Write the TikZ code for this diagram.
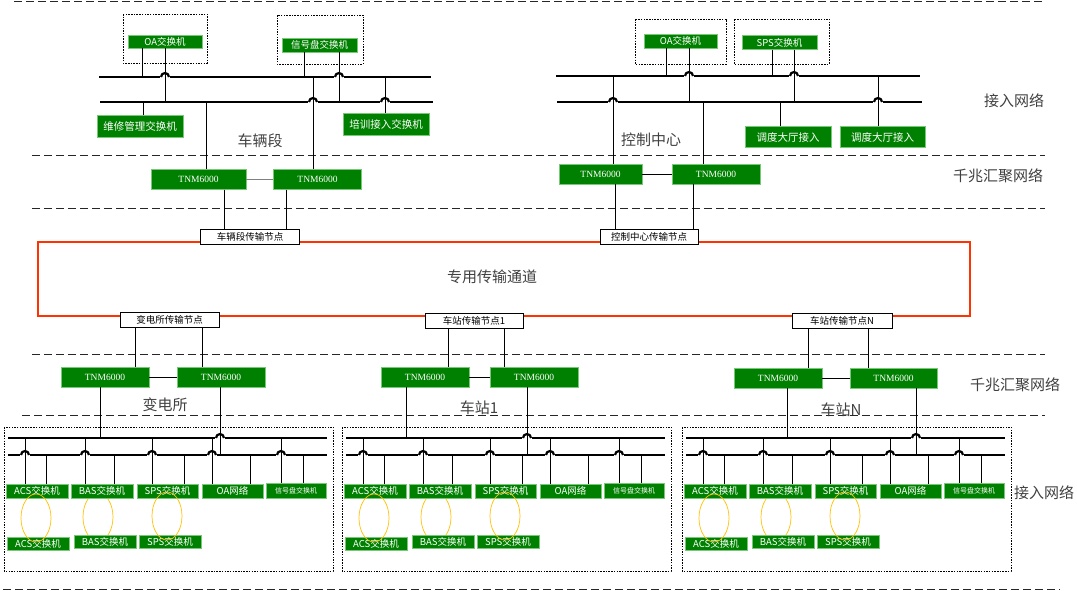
\documentclass[tikz,border=0pt]{standalone}
\usepackage{fontspec}
\setmainfont{Liberation Serif}
\newfontfamily\cjk{Noto Sans CJK SC}
\usetikzlibrary{positioning}

\definecolor{swgreen}{RGB}{0,128,0}
\definecolor{swedge}{RGB}{120,200,120}
\definecolor{ringred}{RGB}{255,51,0}
\definecolor{pairring}{RGB}{255,192,0}

% jump of a bus line over a tap that crosses it
\newcommand{\hop}[2]{%
  \fill[white] (#1-4.6,#2-1.7) rectangle (#1+4.6,#2+1.7);
  \draw[bus] (#1-4,#2) arc (180:360:4);}

\tikzset{
  gbox/.style={draw=swedge, fill=swgreen, text=white, inner sep=0pt,
    font=\cjk\fontsize{9.5}{10}\selectfont},
  gbig/.style={gbox, font=\cjk\fontsize{10.5}{11}\selectfont},
  tnm/.style={gbox, minimum width=88pt, minimum height=20pt,
    font=\fontsize{9.5}{10}\selectfont},
  tnode/.style={draw, fill=white, inner sep=0pt, minimum height=15pt,
    font=\cjk\fontsize{9.5}{10}\selectfont},
  bus/.style={line width=2.2pt},
  tap/.style={line width=0.7pt},
  zone/.style={dash pattern=on 8pt off 4pt, line width=0.8pt, black!85},
  grp/.style={dash pattern=on 1.5pt off 1.2pt, line width=0.8pt},
  lbl/.style={font=\cjk\fontsize{15}{16}\selectfont, text=black!75},
  pair/.style={draw=pairring, line width=0.7pt},
}

\begin{document}
\begin{tikzpicture}[x=1pt, y=-1pt]
\useasboundingbox (0,0) rectangle (1077,590);

% layer borders
\draw[zone] (14,1) -- (1043,1);
\foreach \yy in {155,208,354} \draw[zone] (32,\yy) -- (1045,\yy);
\draw[zone] (22,415) -- (1045,415);
\draw[zone] (3,589) -- (1060,589);

\node[lbl] (accA) at (1014,101) {接入网络};
\node[lbl] (aggA) at (998,176) {千兆汇聚网络};
\node[lbl] (aggB) at (1015,385) {千兆汇聚网络};
\node[lbl] (accB) at (1044,493) {接入网络};

% transmission ring
\draw[ringred, line width=2.5pt] (38,242) rectangle (970,316);
\node[lbl] (ring) at (492,277) {专用传输通道};
\node[tnode, minimum width=99pt] (tnA) at (250,237) {车辆段传输节点};
\node[tnode, minimum width=98pt] (tnB) at (649,237) {控制中心传输节点};
\node[tnode, minimum width=99pt] (tnC) at (169.5,320) {变电所传输节点};
\node[tnode, minimum width=98pt] (tnD) at (474,321) {车站传输节点1};
\node[tnode, minimum width=100pt] (tnE) at (842,321) {车站传输节点N};

% depot
\draw[bus] (99,77) -- (431,77);
\draw[bus] (100,102) -- (433,102);
\node[gbox, minimum width=74pt, minimum height=13pt] (oaA) at (165,41.5) {OA交换机};
\node[gbox, minimum width=75pt, minimum height=14pt] (sigA) at (319.5,45) {信号盘交换机};
\draw[grp] (123,14) rectangle (207,63);
\draw[grp] (277,15) rectangle (363,64);
\node[gbig, minimum width=86pt, minimum height=22pt] (repA) at (140,126) {维修管理交换机};
\node[gbig, minimum width=86pt, minimum height=22pt] (trnA) at (386,124) {培训接入交换机};
\node[lbl] (depot) at (260,141) {车辆段};
\node[tnm, minimum width=95pt] (tA1) at (198.5,179.5) {TNM6000};
\node[tnm] (tA2) at (317.5,179.5) {TNM6000};
\foreach \xx/\yy in {165/77, 339/77, 385/102, 313/102} \hop{\xx}{\yy};
\draw[tap] (142,0 |- oaA.south) -- (142,77);
\draw[tap] (165,0 |- oaA.south) -- (165,102);
\draw[tap] (304,0 |- sigA.south) -- (304,77);
\draw[tap] (339,0 |- sigA.south) -- (339,102);
\draw[tap] (143,102) -- (143,0 |- repA.north);
\draw[tap] (385,77) -- (385,0 |- trnA.north);
\draw[tap] (206,102) -- (206,0 |- tA1.north);
\draw[tap] (313,77) -- (313,0 |- tA2.north);
\draw[tap, gray] (tA1.east) -- (tA2.west);
\draw[tap] (224,0 |- tA1.south) -- (224,0 |- tnA.north);
\draw[tap] (286,0 |- tA2.south) -- (286,0 |- tnA.north);

% control centre
\draw[bus] (556,76) -- (920,76);
\draw[bus] (557,102) -- (922,102);
\node[gbox, minimum width=73pt, minimum height=14pt] (oaB) at (680.5,41) {OA交换机};
\node[gbox, minimum width=75pt, minimum height=14pt] (spsB) at (779.5,42.5) {SPS交换机};
\draw[grp] (635,19) rectangle (726,64);
\draw[grp] (734,19) rectangle (829,64);
\node[gbig, minimum width=86pt, minimum height=21pt] (hallB1) at (788,137) {调度大厅接入};
\node[gbig, minimum width=85pt, minimum height=21pt] (hallB2) at (882.5,137) {调度大厅接入};
\node[lbl] (ctrl) at (651,140) {控制中心};
\node[tnm, minimum width=83pt] (tB1) at (600.5,174) {TNM6000};
\node[tnm] (tB2) at (716,174) {TNM6000};
\foreach \xx/\yy in {689/76, 794/76, 613/102, 878/102} \hop{\xx}{\yy};
\draw[tap] (666,0 |- oaB.south) -- (666,76);
\draw[tap] (689,0 |- oaB.south) -- (689,102);
\draw[tap] (772,0 |- spsB.south) -- (772,76);
\draw[tap] (794,0 |- spsB.south) -- (794,102);
\draw[tap] (780,102) -- (780,0 |- hallB1.north);
\draw[tap] (878,76) -- (878,0 |- hallB2.north);
\draw[tap] (613,76) -- (613,0 |- tB1.north);
\draw[tap] (703,102) -- (703,0 |- tB2.north);
\draw[tap] (tB1.east) -- (tB2.west);
\draw[tap] (615,0 |- tB1.south) -- (615,0 |- tnB.north);
\draw[tap] (693,0 |- tB2.south) -- (693,0 |- tnB.north);

% substation and stations
\node[tnm] (tC1) at (105,377) {TNM6000};
\node[tnm] (tC2) at (221,377) {TNM6000};
\node[tnm] (tD1) at (425,377) {TNM6000};
\node[tnm] (tD2) at (534,377) {TNM6000};
\node[tnm] (tE1) at (778,378) {TNM6000};
\node[tnm, minimum width=87pt] (tE2) at (893.5,378) {TNM6000};
\node[lbl] (subst) at (165,405) {变电所};
\node[lbl] (sta1) at (479,408) {车站1};
\node[lbl] (staN) at (841,410) {车站N};
\foreach \sec/\xa/\xb in {C/135/202, D/448/504, E/808/868}{
  \draw[tap] (\xa,0 |- tn\sec.south) -- (\xa,0 |- t\sec1.north);
  \draw[tap] (\xb,0 |- tn\sec.south) -- (\xb,0 |- t\sec2.north);
  \draw[tap] (t\sec1.east) -- (t\sec2.west);
}

\foreach \off/\sec/\la/\lb in {0/C/100/220, 338/D/406/527, 678/E/787/916}{
  \draw[grp] (\off+4,427) rectangle (\off+333,571);
  \draw[bus] (\off+8,438) -- (\off+327,438);
  \draw[bus] (\off+8,455) -- (\off+327,455);
  \draw[pair] (\off+98,517) ellipse (15 and 24);
  \node[gbox, minimum width=62pt, minimum height=14pt] (acs\sec) at (\off+37,491) {ACS交换机};
  \node[gbox, minimum width=62pt, minimum height=14pt] (bas\sec) at (\off+102,491) {BAS交换机};
  \node[gbox, minimum width=61pt, minimum height=14pt] (sps\sec) at (\off+167.5,491) {SPS交换机};
  \node[gbox, minimum width=61pt, minimum height=14pt] (oa\sec) at (\off+232.5,491) {OA网络};
  \node[gbox, minimum width=60pt, minimum height=15pt,
    font=\cjk\fontsize{7}{8}\selectfont] (sig\sec) at (\off+296,491) {信号盘交换机};
  \node[gbox, minimum width=62pt, minimum height=13pt] (acsb\sec) at (\off+38,543.5) {ACS交换机};
  \node[gbox, minimum width=62pt, minimum height=13pt] (basb\sec) at (\off+105,541.5) {BAS交换机};
  \node[gbox, minimum width=62pt, minimum height=13pt] (spsb\sec) at (\off+170,541.5) {SPS交换机};
  \draw[pair] (\off+36,518) ellipse (15 and 24);
  \draw[pair] (\off+167,516) ellipse (15 and 24);
  \hop{\lb}{438}
  \draw[tap] (\la,0 |- t\sec1.south) -- (\la,438);
  \draw[tap] (\lb,0 |- t\sec2.south) -- (\lb,455);
  \foreach \ta/\tb/\nm in {25/46/acs, 85/114/bas, 152/184/sps, 212/250/oa, 281/303/sig}{
    \hop{\off+\ta}{455}
    \draw[tap] (\off+\ta,438) -- (\off+\ta,0 |- \nm\sec.north);
    \draw[tap] (\off+\tb,455) -- (\off+\tb,0 |- \nm\sec.north);
  }
}
\end{tikzpicture}
\end{document}
